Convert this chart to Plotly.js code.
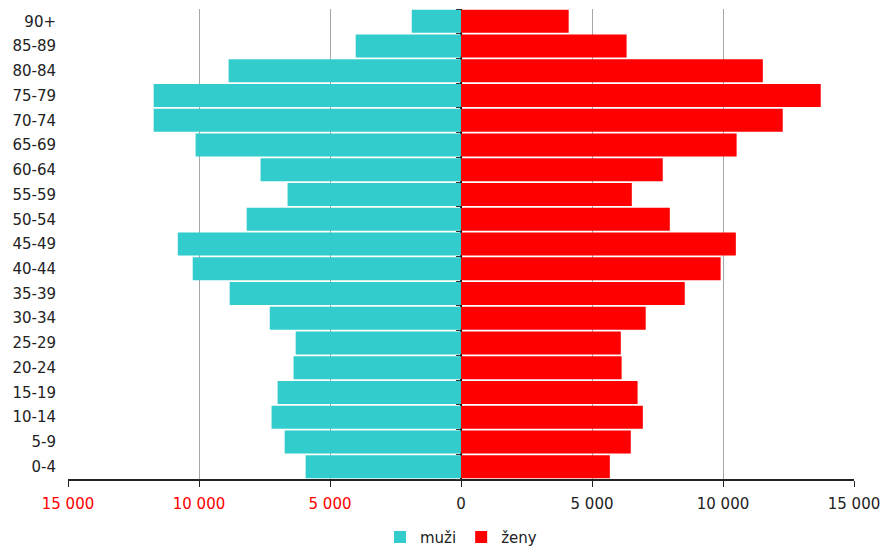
<!DOCTYPE html>
<html>
<head>
<meta charset="utf-8">
<script src="https://cdn.plot.ly/plotly-3.0.1.min.js"></script>
<style>html,body{margin:0;padding:0;background:#fff;}#chart{width:882px;height:547px;}</style>
</head>
<body>
<div id="chart"></div>
<script>
const ageGroups = ["0-4","5-9","10-14","15-19","20-24","25-29","30-34","35-39","40-44","45-49","50-54","55-59","60-64","65-69","70-74","75-79","80-84","85-89","90+"];
const men   = [5930, 6730, 7230, 7000, 6390, 6310, 7300, 8830, 10240, 10810, 8180, 6620, 7650, 10130, 11730, 11730, 8870, 4020, 1880];
const women = [5680, 6480, 6940, 6740, 6130, 6100, 7050, 8540, 9910, 10490, 7970, 6520, 7700, 10520, 12280, 13730, 11520, 6320, 4110];
const tickValues = [-15000, -10000, -5000, 0, 5000, 10000, 15000];
const tickLabels = ["15 000", "10 000", "5 000", "0", "5 000", "10 000", "15 000"];

const font = "DejaVu Sans, Verdana, sans-serif";
const traces = [
  {type:"bar", orientation:"h", name:"muži", y:ageGroups, x:men.map(v => -v),
   marker:{color:"#33CCCC"}, hoverinfo:"none"},
  {type:"bar", orientation:"h", name:"ženy", y:ageGroups, x:women,
   marker:{color:"#FF0000"}, hoverinfo:"none"},
  {type:"bar", orientation:"h", y:ageGroups, x:ageGroups.map(() => 0), yaxis:"y2",
   showlegend:false, hoverinfo:"none", marker:{color:"rgba(0,0,0,0)"}}
];
const layout = {
  width:882, height:547,
  margin:{l:68, r:28, t:9, b:68},
  paper_bgcolor:"#fff", plot_bgcolor:"#fff",
  barmode:"overlay", bargap:0.07,
  font:{family:font, size:15, color:"#222"},
  xaxis:{range:[-15000,15000], tickvals:tickValues,
    ticktext:tickLabels.map((t,i) => tickValues[i] < 0 ? '<span style="color:#FF0000">'+t+'</span>' : t),
    showgrid:true, gridcolor:"#a6a6a6", gridwidth:1,
    zeroline:true, zerolinecolor:"#000", zerolinewidth:1.5,
    ticks:"outside", ticklen:6, tickcolor:"#222",
    showline:true, linecolor:"#222", linewidth:1.5,
    ticklabelstandoff:4, fixedrange:true},
  yaxis:{type:"category", categoryorder:"array", categoryarray:ageGroups,
    range:[-0.5, ageGroups.length-0.5],
    showgrid:false, zeroline:false, showline:false, ticks:"",
    ticklabelstandoff:11, fixedrange:true},
  yaxis2:{type:"category", categoryorder:"array", categoryarray:ageGroups,
    range:[-0.5, ageGroups.length-0.5], overlaying:"y", anchor:"free", position:0.5,
    showticklabels:false, showgrid:false, zeroline:false, showline:false,
    ticks:"outside", tickson:"boundaries", ticklen:5, tickcolor:"#333", tickwidth:1, fixedrange:true},
  showlegend:true,
  legend:{orientation:"h", x:0.5, xanchor:"center", yref:"container", y:0.018, yanchor:"middle",
    font:{family:font, size:15, color:"#222"}, itemwidth:30, traceorder:"normal"}
};
Plotly.newPlot("chart", traces, layout, {displayModeBar:false, staticPlot:true});
</script>
</body>
</html>
